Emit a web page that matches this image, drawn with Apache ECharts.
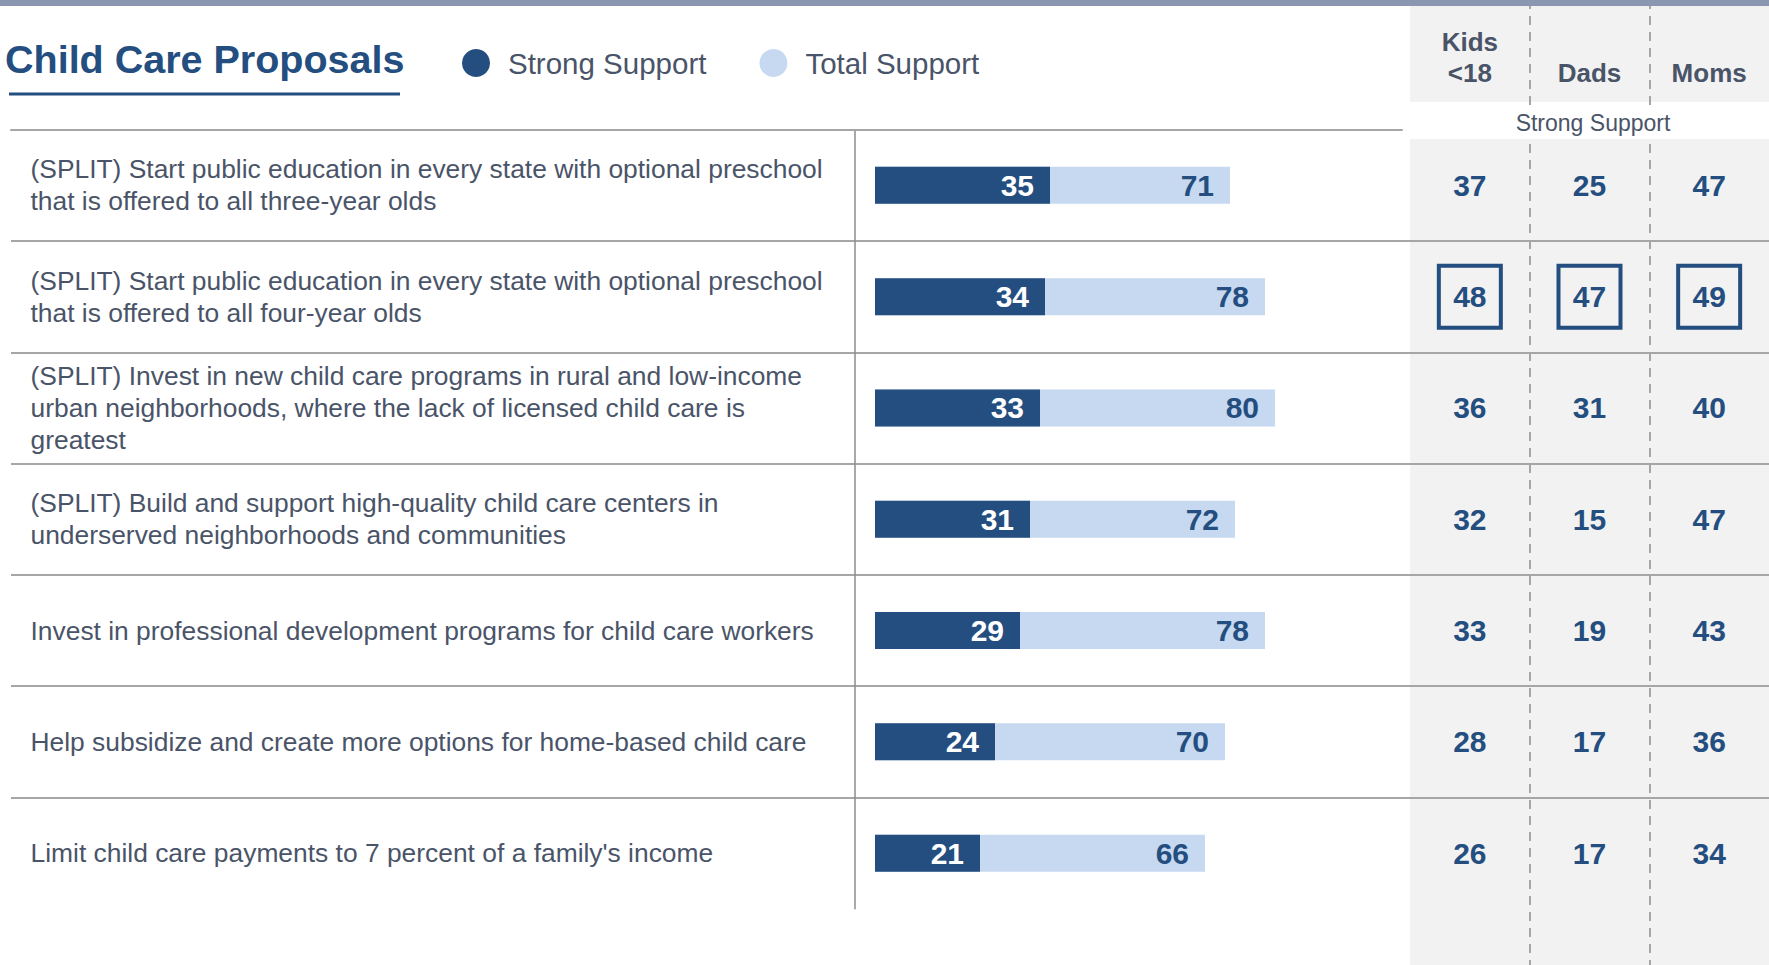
<!DOCTYPE html>
<html>
<head>
<meta charset="utf-8">
<script src="https://cdn.jsdelivr.net/npm/echarts@6/dist/echarts.min.js"></script>
<style>
html,body{margin:0;padding:0;background:#fff;}
#chart{width:1769px;height:965px;}
</style>
</head>
<body>
<div id="chart"></div>
<script>
// ---- data ----
var categories = [
  "(SPLIT) Start public education in every state with optional preschool that is offered to all three-year olds",
  "(SPLIT) Start public education in every state with optional preschool that is offered to all four-year olds",
  "(SPLIT) Invest in new child care programs in rural and low-income urban neighborhoods, where the lack of licensed child care is greatest",
  "(SPLIT) Build and support high-quality child care centers in underserved neighborhoods and communities",
  "Invest in professional development programs for child care workers",
  "Help subsidize and create more options for home-based child care",
  "Limit child care payments to 7 percent of a family's income"
];
var strongSupport = [35, 34, 33, 31, 29, 24, 21];
var totalSupport = [71, 78, 80, 72, 78, 70, 66];
var groupColumns = ["Kids\n<18", "Dads", "Moms"];
var kids = [37, 48, 36, 32, 33, 28, 26];
var dads = [25, 47, 31, 15, 19, 17, 17];
var moms = [47, 49, 40, 47, 43, 36, 34];
var boxedRows = [1];

// ---- style ----
var FONT = "'Liberation Sans', Arial, Helvetica, sans-serif";
var NAVY = '#234e7f';
var LIGHT = '#c6d9f0';
var SLATE = '#4a5468';
var RULE = '#a6a6a6';
var PANEL = '#f2f2f2';
var W = 1769, HGT = 965;
var rowTop = 129.7, rowH = 111.3;
var bodyH = rowH * categories.length;
var panelLeft = 1410, panelW = 368;

var groupSeries = [kids, dads, moms];
var panelData = [];
for (var c = 0; c < groupSeries.length; c++) {
  for (var r = 0; r < categories.length; r++) {
    var boxed = boxedRows.indexOf(r) >= 0;
    panelData.push({
      value: [c, r, groupSeries[c][r]],
      symbolSize: boxed ? 62 : 1,
      itemStyle: boxed ? {color: 'rgba(0,0,0,0)', borderColor: NAVY, borderWidth: 4, opacity: 1}
                       : {color: 'rgba(0,0,0,0)', borderWidth: 0, opacity: 1}
    });
  }
}

var chart = echarts.init(document.getElementById('chart'), null, {renderer: 'svg'});
var option = {
  animation: false,
  backgroundColor: '#fff',
  textStyle: {fontFamily: FONT},
  title: {
    text: 'Child Care Proposals', left: 5, top: 39, padding: 0,
    textStyle: {fontSize: 39.5, fontWeight: 'bold', color: NAVY, fontFamily: FONT}
  },
  legend: {
    data: ['Strong Support', 'Total Support'],
    left: 462, top: 48, padding: 0,
    itemWidth: 28, itemHeight: 28, itemGap: 53, icon: 'circle',
    selectedMode: false,
    textStyle: {fontSize: 29.5, color: SLATE, fontFamily: FONT, padding: [0, 0, 0, 13]}
  },
  graphic: {elements: [
    {type: 'rect', z: -10, shape: {x: 1410, y: 5, width: W - 1410, height: 97}, style: {fill: PANEL}},
    {type: 'rect', z: -10, shape: {x: 1410, y: 139, width: W - 1410, height: HGT - 139}, style: {fill: PANEL}},
    {type: 'rect', z: 100, shape: {x: 0, y: 0, width: W, height: 6}, style: {fill: '#8b97b0'}},
    {type: 'rect', z: 100, shape: {x: 9, y: 92.5, width: 391, height: 3}, style: {fill: NAVY}},
    {type: 'text', z: 50, x: 1593, y: 123, style: {
      text: 'Strong Support', align: 'center', verticalAlign: 'middle',
      fontSize: 23, fill: SLATE, fontFamily: FONT, backgroundColor: '#fff', padding: [4, 4]
    }}
  ]},
  grid: [
    // 0: row rules across the full width
    {left: 11, width: W - 11, top: rowTop, height: bodyH},
    // 1: bars
    {left: 875, width: 500, top: rowTop, height: bodyH},
    // 2: group panel (full height)
    {left: panelLeft, width: panelW, top: 0, height: HGT},
    // 3: row labels + header rule
    {left: 11, width: 1391, top: rowTop, height: bodyH}
  ],
  xAxis: [
    {gridIndex: 0, type: 'value', show: false},
    {gridIndex: 1, type: 'value', min: 0, max: 100, show: false},
    {gridIndex: 2, type: 'category', data: groupColumns, position: 'top',
      axisLine: {show: false}, axisTick: {show: false},
      axisLabel: {inside: true, margin: 88, verticalAlign: 'bottom', fontSize: 26, fontWeight: 'bold',
        lineHeight: 31, color: SLATE, fontFamily: FONT, interval: 0},
      splitLine: {show: true, showMinLine: false, showMaxLine: false,
        lineStyle: {color: RULE, width: 2, type: [9, 7]}}
    },
    {gridIndex: 3, type: 'value', position: 'top',
      axisLine: {show: true, onZero: false, lineStyle: {color: RULE, width: 2}},
      axisTick: {show: false}, axisLabel: {show: false}, splitLine: {show: false}}
  ],
  yAxis: [
    {gridIndex: 0, type: 'category', data: categories, inverse: true,
      axisLine: {show: false}, axisTick: {show: false}, axisLabel: {show: false},
      splitLine: {show: true, showMinLine: false, showMaxLine: false,
        lineStyle: {color: [RULE], width: 2}}},
    {gridIndex: 1, type: 'category', data: categories, inverse: true, offset: 20,
      axisLine: {show: true, onZero: false, lineStyle: {color: '#8c8c8c', width: 1.5}},
      axisTick: {show: false}, axisLabel: {show: false}, splitLine: {show: false}},
    {gridIndex: 2, type: 'value', inverse: true, show: false,
      min: -(rowTop / rowH + 0.5), max: HGT / rowH - (rowTop / rowH + 0.5),
      splitLine: {show: false}},
    {gridIndex: 3, type: 'category', data: categories, inverse: true,
      axisLine: {show: false}, axisTick: {show: false}, splitLine: {show: false},
      axisLabel: {inside: true, margin: 19.5, align: 'left', width: 806, overflow: 'break',
        fontSize: 26.4, lineHeight: 32, color: SLATE, fontFamily: FONT, interval: 0}}
  ],
  series: [
    {name: 'Total Support', type: 'bar', xAxisIndex: 1, yAxisIndex: 1, data: totalSupport,
      barWidth: 37, barGap: '-100%', itemStyle: {color: LIGHT}, silent: true,
      label: {show: true, position: 'insideRight', distance: 16, fontSize: 30, fontWeight: 'bold',
        color: NAVY, fontFamily: FONT}},
    {name: 'Strong Support', type: 'bar', xAxisIndex: 1, yAxisIndex: 1, data: strongSupport,
      barWidth: 37, barGap: '-100%', itemStyle: {color: NAVY}, silent: true,
      label: {show: true, position: 'insideRight', distance: 16, fontSize: 30, fontWeight: 'bold',
        color: '#fff', fontFamily: FONT}},
    {name: 'groups', type: 'scatter', xAxisIndex: 2, yAxisIndex: 2, symbol: 'rect',
      data: panelData, silent: true, itemStyle: {opacity: 1},
      label: {show: true, position: 'inside', fontSize: 30, fontWeight: 'bold', color: NAVY,
        fontFamily: FONT, formatter: function (p) { return p.value[2]; }}}
  ]
};
chart.setOption(option);
</script>
</body>
</html>
